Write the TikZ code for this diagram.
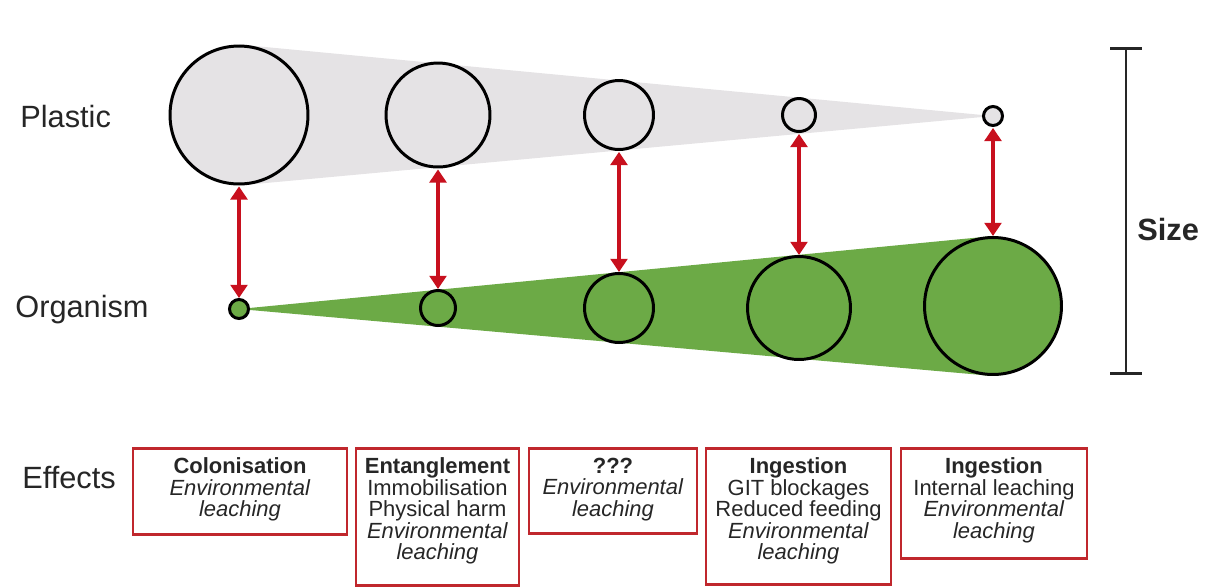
\documentclass[tikz,border=0pt]{standalone}
\usepackage{fontspec}
\setmainfont{Liberation Sans}
\usepackage{xcolor}
\usetikzlibrary{arrows.meta,backgrounds}

\definecolor{plasticgrey}{RGB}{229,227,229}
\definecolor{organismgreen}{RGB}{108,170,70}
\definecolor{linkred}{RGB}{200,16,30}
\definecolor{boxred}{RGB}{192,39,45}
\definecolor{inkgrey}{RGB}{38,38,38}

% text of one effects box: width, height, lines
\newcommand{\effecttext}[3]{\parbox[t][#2][t]{#1}{\centering\vspace*{5.5pt}#3}}

\tikzset{
  plastic/.style={circle, draw=black, line width=1.7pt, fill=plasticgrey, inner sep=0pt},
  organism/.style={circle, draw=black, line width=1.7pt, fill=organismgreen, inner sep=0pt},
  link/.style={draw=linkred, line width=2.4pt, {Triangle[width=9.5pt,length=7.5pt]}-{Triangle[width=9.5pt,length=7.5pt]}, shorten <=0.5pt},
  rowlabel/.style={anchor=west, text=inkgrey, inner sep=0pt, font=\fontsize{17.5}{21}\selectfont},
  effect/.style={draw=boxred, line width=1.5pt, inner sep=0pt, anchor=north, text=inkgrey, font=\fontsize{12.5}{12.2}\selectfont},
  sizebar/.style={draw=inkgrey, line width=1.5pt, {Bar[width=18pt]}-{Bar[width=18pt]}}
}

\begin{document}
\begin{tikzpicture}[x=0.02cm, y=-0.02cm]
    \useasboundingbox (0,0) rectangle (1213,586);

    % row labels
    \node[rowlabel] (plasticlabel) at (20,117) {Plastic};
    \node[rowlabel] (organismlabel) at (15,310) {Organism};
    \node[rowlabel] (effectslabel) at (22,478) {Effects};

    % plastic particles, shrinking
    \node[plastic, minimum size=2.76cm] (p1) at (239,115) {};
    \node[plastic, minimum size=2.08cm] (p2) at (438,115) {};
    \node[plastic, minimum size=1.38cm] (p3) at (619,115) {};
    \node[plastic, minimum size=0.66cm] (p4) at (799,115) {};
    \node[plastic, minimum size=0.38cm] (p5) at (993,116) {};

    % organisms, growing
    \node[organism, minimum size=0.38cm] (o1) at (239,309) {};
    \node[organism, minimum size=0.70cm] (o2) at (438,308) {};
    \node[organism, minimum size=1.38cm] (o3) at (619,308) {};
    \node[organism, minimum size=2.06cm] (o4) at (799,308) {};
    \node[organism, minimum size=2.74cm] (o5) at (993,306) {};

    % cones behind the circles
    \begin{scope}[on background layer]
        \fill[plasticgrey] (p1.north) -- (p5.center) -- (p1.south) -- cycle;
        \fill[organismgreen] (o1.center) -- (o5.north) -- (o5.south) -- cycle;
    \end{scope}

    % plastic vs organism
    \draw[link] (p1.south) -- (o1.north);
    \draw[link] (p2.south) -- (o2.north);
    \draw[link] (p3.south) -- (o3.north);
    \draw[link] (p4.south) -- (o4.north);
    \draw[link] (p5.south) -- (o5.north);

    % size scale
    \coordinate (sizetop) at (1126,47);
    \coordinate (sizebot) at (1126,375);
    \draw[sizebar] (sizetop) -- (sizebot);
    \node[anchor=west, inner sep=0pt, text=inkgrey, font=\fontsize{17.5}{21}\selectfont\bfseries] (sizelabel) at (1137,229) {Size};

    % effects
    \node[effect] (e1) at (240,447) {\effecttext{4.28cm}{1.72cm}{\textbf{Colonisation}\\ \textit{Environmental}\\ \textit{leaching}}};
    \node[effect] (e2) at (437.5,447) {\effecttext{3.26cm}{2.74cm}{\textbf{Entanglement}\\ Immobilisation\\ Physical harm\\ \textit{Environmental}\\ \textit{leaching}}};
    \node[effect] (e3) at (613,447) {\effecttext{3.36cm}{1.70cm}{\textbf{???}\\ \textit{Environmental}\\ \textit{leaching}}};
    \node[effect] (e4) at (798.5,447) {\effecttext{3.70cm}{2.72cm}{\textbf{Ingestion}\\ GIT blockages\\ Reduced feeding\\ \textit{Environmental}\\ \textit{leaching}}};
    \node[effect] (e5) at (994,447) {\effecttext{3.72cm}{2.20cm}{\textbf{Ingestion}\\ Internal leaching\\ \textit{Environmental}\\ \textit{leaching}}};
\end{tikzpicture}
\end{document}
